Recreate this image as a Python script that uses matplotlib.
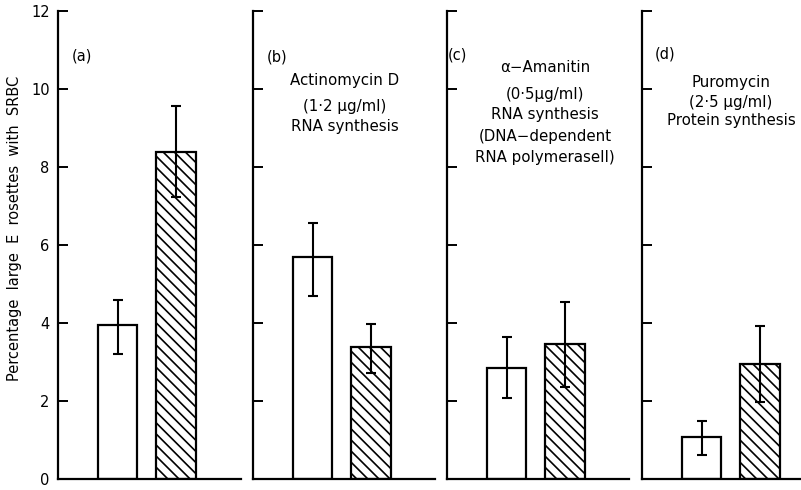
import matplotlib
matplotlib.use("Agg")
import matplotlib.pyplot as plt

# ---- data ----
panels = ["(a)", "(b)", "(c)", "(d)"]
control_vals = [3.95, 5.68, 2.85, 1.07]
control_lo = [3.20, 4.69, 2.07, 0.61]
control_hi = [4.59, 6.57, 3.65, 1.48]
treated_vals = [8.39, 3.38, 3.45, 2.94]
treated_lo = [7.22, 2.71, 2.35, 1.98]
treated_hi = [9.56, 3.97, 4.53, 3.92]
descriptions = [
    [],
    ["Actinomycin D", "(1·2 μg/ml)", "RNA synthesis"],
    ["α−Amanitin", "(0·5μg/ml)", "RNA synthesis", "(DNA−dependent", "RNA polymeraseII)"],
    ["Puromycin", "(2·5 μg/ml)", "Protein synthesis"],
]
yticks = [0, 2, 4, 6, 8, 10, 12]
ylabel = "Percentage  large  E  rosettes  with  SRBC"

W, H = 801, 490
plt.rcParams["font.family"] = ["DejaVu Sans"]
plt.rcParams["hatch.linewidth"] = 1.2
fig = plt.figure(figsize=(W / 100, H / 100), dpi=100)

spine_x = [58, 253, 447, 642]
widths = [183, 182, 182, 183]
base_y = 479
top_y = 11
unit = 58.5  # px per category step
first_off = 59.5  # px from spine to first bar centre
bar_w = 39.5 / unit

desc_x = [0, 345, 545, 731]
desc_y = [
    [],
    [80, 106, 127],
    [68, 94, 114, 137, 157],
    [82, 102, 121],
]
label_pos = [(72, 56), (267, 57), (448, 55), (655, 54)]

for i in range(4):
    ax = fig.add_axes([spine_x[i] / W, (H - base_y) / H, widths[i] / W, (base_y - top_y) / H])
    left = -first_off / unit
    ax.set_xlim(left, left + widths[i] / unit)
    ax.set_ylim(0, 12)
    x = [0, 1]
    vals = [control_vals[i], treated_vals[i]]
    lo = [control_vals[i] - control_lo[i], treated_vals[i] - treated_lo[i]]
    hi = [control_hi[i] - control_vals[i], treated_hi[i] - treated_vals[i]]
    ax.bar(x[0], vals[0], width=bar_w, color="white", edgecolor="black", linewidth=1.6, zorder=2)
    ax.bar(x[1], vals[1], width=bar_w, color="white", edgecolor="black", linewidth=1.6,
           hatch="\\\\\\", zorder=2)
    ax.errorbar(x, vals, yerr=[lo, hi], fmt="none", ecolor="black", elinewidth=1.5,
                capsize=3.6, capthick=1.5, zorder=3)
    for s in ["top", "right"]:
        ax.spines[s].set_visible(False)
    ax.spines["left"].set_linewidth(1.6)
    ax.spines["bottom"].set_linewidth(1.6)
    ax.set_xticks([])
    ax.set_yticks(yticks)
    ax.tick_params(axis="y", direction="in", length=7.5, width=1.4, labelsize=10.5, pad=6)
    if i > 0:
        ax.set_yticklabels([])
    lx, ly = label_pos[i]
    fig.text(lx / W, 1 - ly / H, panels[i], fontsize=10.5, ha="left", va="center")
    for line, yy in zip(descriptions[i], desc_y[i]):
        fig.text(desc_x[i] / W, 1 - yy / H, line, fontsize=10.8, ha="center", va="center")

fig.text(15 / W, 1 - 228 / H, ylabel, rotation=90, fontsize=10.5, ha="center", va="center")

fig.savefig("out.png", dpi=100)
